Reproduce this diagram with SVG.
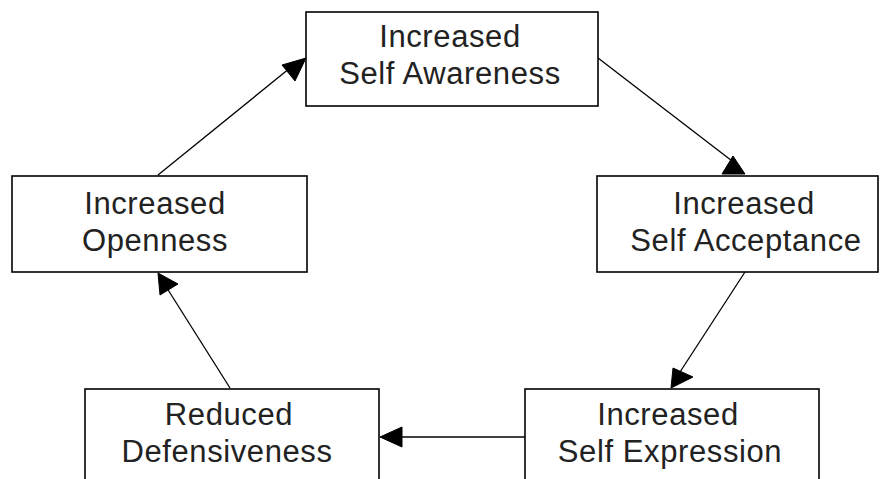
<svg xmlns="http://www.w3.org/2000/svg" width="881" height="479" viewBox="0 0 881 479">
<style>
.box{fill:#fff;stroke:#000;stroke-width:1.6}
.t{font-family:"Liberation Sans",Arial,sans-serif;font-size:31px;fill:#222;text-anchor:middle;letter-spacing:0.6px}
.ln{stroke:#000;stroke-width:1.3;fill:none}
.ah{fill:#000;stroke:#000;stroke-width:1}
</style>
<rect width="881" height="479" fill="#fff"/>
<g id="connectors">
<line class="ln" x1="158" y1="175" x2="290" y2="68"/>
<polygon class="ah" points="282,65 306,58 295,81"/>
<line class="ln" x1="598" y1="58" x2="736" y2="164"/>
<polygon class="ah" points="733,156 722,174 745,174"/>
<line class="ln" x1="745" y1="272" x2="680" y2="372"/>
<polygon class="ah" points="673,368 693,377 671,388"/>
<line class="ln" x1="525" y1="437" x2="395" y2="437"/>
<polygon class="ah" points="380,437 402,427 402,447"/>
<line class="ln" x1="230" y1="388" x2="165" y2="285"/>
<polygon class="ah" points="158,273 178,284 160,295"/>
</g>
<g id="awareness">
<rect class="box" x="306" y="12" width="292" height="94"/>
<text class="t" x="450" y="47">Increased</text>
<text class="t" x="450" y="83.5">Self Awareness</text>
</g>
<g id="openness">
<rect class="box" x="12" y="176" width="295" height="96"/>
<text class="t" x="155" y="214">Increased</text>
<text class="t" x="155" y="250.5">Openness</text>
</g>
<g id="acceptance">
<rect class="box" x="597" y="176" width="281" height="96"/>
<text class="t" x="744" y="214">Increased</text>
<text class="t" x="746" y="250.5">Self Acceptance</text>
</g>
<g id="defensiveness">
<rect class="box" x="85" y="389" width="294" height="100"/>
<text class="t" x="229" y="425">Reduced</text>
<text class="t" x="227" y="461.5">Defensiveness</text>
</g>
<g id="expression">
<rect class="box" x="525" y="389" width="294" height="100"/>
<text class="t" x="668" y="425">Increased</text>
<text class="t" x="670" y="461.5">Self Expression</text>
</g>
</svg>
